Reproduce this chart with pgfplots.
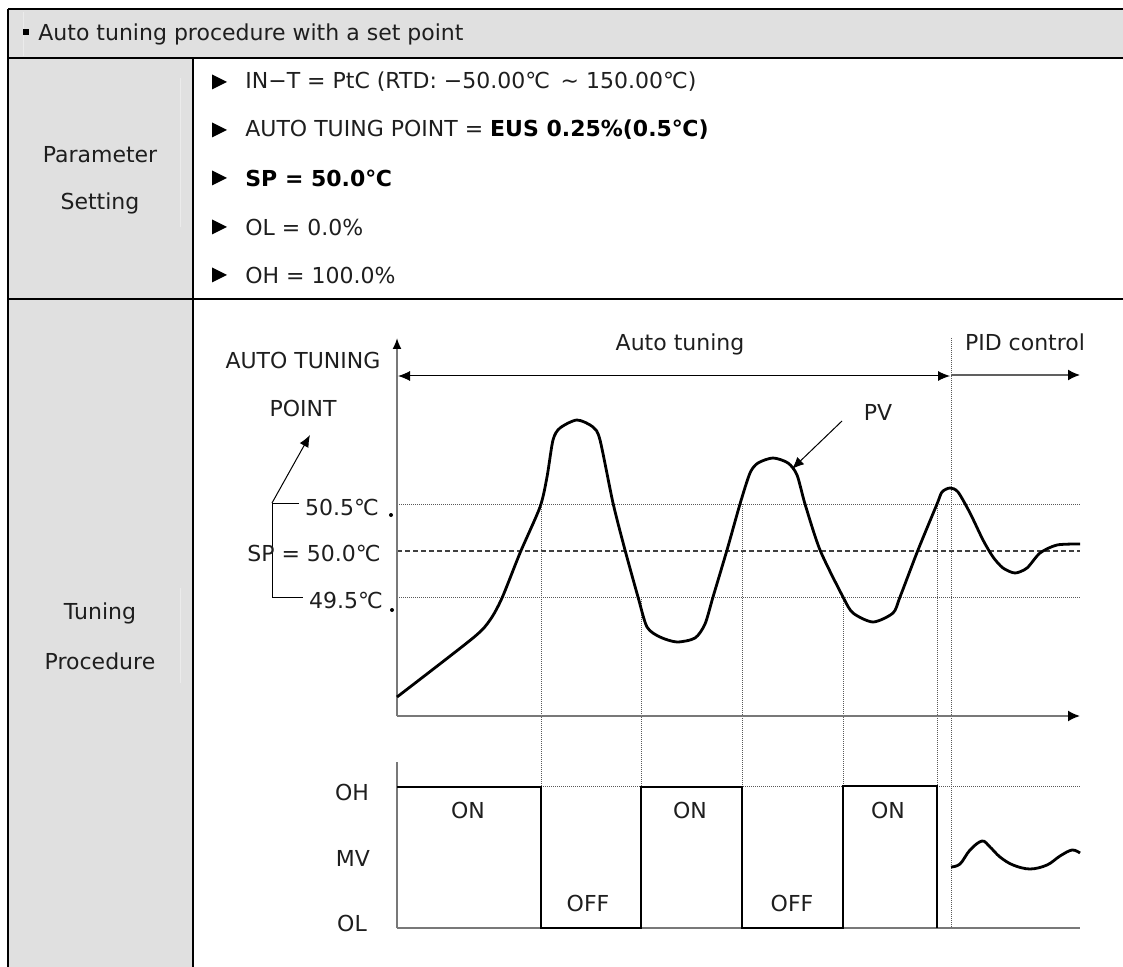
\documentclass[border=0pt]{standalone}
\usepackage{fontspec}
\setmainfont{DejaVu Sans}
\usepackage{pgfplots}
\pgfplotsset{compat=1.18}
\usetikzlibrary{arrows.meta}
\definecolor{bg}{RGB}{224,224,224}
\definecolor{txt}{RGB}{30,30,30}
\definecolor{axg}{RGB}{120,120,120}
\begin{document}
\begin{tikzpicture}
\tikzset{
  lbl/.style={font=\fontsize{11pt}{13pt}\selectfont, text=txt, inner sep=0pt},
  dotl/.style={line width=0.5pt, dash pattern=on 0.5pt off 0.5pt, black!65},
  tip/.style={-{Latex[length=6pt,width=5.5pt,black]}},
}
\begin{axis}[
  width=561.5pt, height=483.5pt, scale only axis,
  xmin=0, xmax=1123, ymin=0, ymax=967, y dir=reverse,
  axis lines=none, clip=false]
% ---------- table ----------
\fill[bg] (8,9) rectangle (1123,58);
\fill[bg] (8,58) rectangle (193,967);
\draw[white!35!bg, line width=0.4pt] (23,12) -- (23,56);
\draw[white!35!bg, line width=0.4pt] (180,78) -- (180,227);
\draw[white!35!bg, line width=0.4pt] (180,588) -- (180,683);
\draw[black, line width=1pt] (8,9) -- (1123,9);
\draw[black, line width=1pt] (8,58) -- (1123,58);
\draw[black, line width=1pt] (8,299) -- (1123,299);
\draw[black, line width=1pt] (8,9) -- (8,967);
\draw[black, line width=1pt] (193,58) -- (193,967);
% header
\fill[black] (23,29.5) rectangle (28.5,35.5);
\node[lbl, anchor=west] at (38,34) {Auto tuning procedure with a set point};
% left column
\node[lbl] at (100,155) {Parameter};
\node[lbl] at (100,203) {Setting};
\node[lbl] at (100,613) {Tuning};
\node[lbl] at (100,661) {Procedure};
% parameter lines
\fill[black] (212,74.5) -- (227,82) -- (212,89.5) -- cycle;
\fill[black] (212,122.5) -- (227,130) -- (212,137.5) -- cycle;
\fill[black] (212,170.5) -- (227,178) -- (212,185.5) -- cycle;
\fill[black] (212,219.5) -- (227,227) -- (212,234.5) -- cycle;
\fill[black] (212,267.5) -- (227,275) -- (212,282.5) -- cycle;
\node[lbl, anchor=west] at (245,82) {IN−T = PtC (RTD: −50.00℃ \,∼ 150.00℃)};
\node[lbl, anchor=west] at (245,130) {AUTO TUING POINT = \textcolor{black}{\bfseries EUS 0.25\%(0.5℃)}};
\node[lbl, anchor=west, text=black] at (245,178) {\bfseries SP = 50.0℃};
\node[lbl, anchor=west] at (245,227) {OL = 0.0\%};
\node[lbl, anchor=west] at (245,275) {OH = 100.0\%};
% ---------- diagram guides ----------
\draw[dotl] (397,504) -- (1080,504);
\draw[dotl] (397,597) -- (1080,597);
\draw[black!75, line width=0.6pt, dash pattern=on 2.5pt off 1.5pt] (397,551) -- (1080,551);
\draw[dotl] (541,505) -- (541,787);
\draw[dotl] (641,597) -- (641,787);
\draw[dotl] (742,504) -- (742,787);
\draw[dotl] (843,597) -- (843,786);
\draw[dotl] (937,504) -- (937,786);
\draw[dotl] (951,338) -- (951,928);
\draw[dotl] (397,786) -- (1080,786);
% axes
\draw[axg, line width=0.9pt, -{Latex[length=5.5pt,width=4.5pt,black]}] (397,716) -- (397,338);
\draw[axg, line width=0.9pt, tip] (397,716) -- (1080,716);
\draw[axg, line width=0.9pt] (397,928) -- (397,762);
\draw[axg, line width=0.9pt] (397,928) -- (1080,928);
% top arrows
\draw[black, line width=0.5pt, {Latex[length=6pt,width=5pt]}-{Latex[length=6pt,width=5pt]}] (398,376) -- (950,376);
\draw[axg!80!black, line width=0.8pt, tip] (951,375) -- (1080,375);
\node[lbl] at (680,344) {Auto tuning};
\node[lbl] at (1025,342) {PID control};
\node[lbl] at (303,360) {AUTO TUNING};
\node[lbl] at (303,408) {POINT};
% bracket
\draw[black, line width=0.5pt] (299,503) -- (272,503) -- (272,597) -- (303,597);
\draw[black, line width=0.5pt, -{Latex[length=6pt,width=5pt]}] (272,503) -- (310,435);
\node[lbl] at (342,507) {50.5℃};
\node[lbl] at (314,553) {SP = 50.0℃};
\node[lbl] at (346,600) {49.5℃};
\fill[black] (391,515) circle (1pt);
\fill[black] (392,610) circle (1pt);
% PV label
\draw[black, line width=0.5pt, -{Latex[length=6pt,width=5pt]}] (842,421) -- (792,469);
\node[lbl] at (878,412) {PV};
% MV labels
\node[lbl] at (352,792) {OH};
\node[lbl] at (353,858) {MV};
\node[lbl] at (352,923) {OL};
\node[lbl] at (468,810) {ON};
\node[lbl] at (690,810) {ON};
\node[lbl] at (888,810) {ON};
\node[lbl] at (588,903) {OFF};
\node[lbl] at (792,903) {OFF};
% ---------- data ----------
\addplot[black, line width=1.4pt, smooth, tension=0.45] coordinates {
(397,697) (473,638) (490,620) (502,598) (520,553) (540,507) (547,477) (553,440) (560,428) (577,420) (593,427) (600,440) (613,503) (625,550) (638,597) (647,627) (660,637) (677,642) (695,638) (705,624) (713,597) (727,550) (740,504) (750,473) (758,463) (773,458) (788,463) (797,475) (805,504) (820,550) (843,597) (853,613) (873,622) (893,613) (900,597) (918,550) (937,504) (942,492) (950,488) (958,492) (970,513) (983,540) (993,557) (1003,568) (1015,573) (1027,568) (1040,553) (1057,545) (1080,544)
};
\addplot[black, line width=1.4pt] coordinates {
(397,787) (541,787) (541,928) (641,928) (641,787) (742,787) (742,928) (843,928) (843,786) (937,786) (937,928)
};
\addplot[black, line width=1.4pt, smooth, tension=0.6] coordinates {
(951,867) (960,864) (970,850) (982,841) (990,847) (1000,857) (1013,865) (1030,869) (1047,865) (1060,856) (1072,850) (1080,853)
};
\end{axis}
\pgfresetboundingbox
\path[use as bounding box] (0,0) rectangle (561.5pt,483.5pt);
\end{tikzpicture}
\end{document}
